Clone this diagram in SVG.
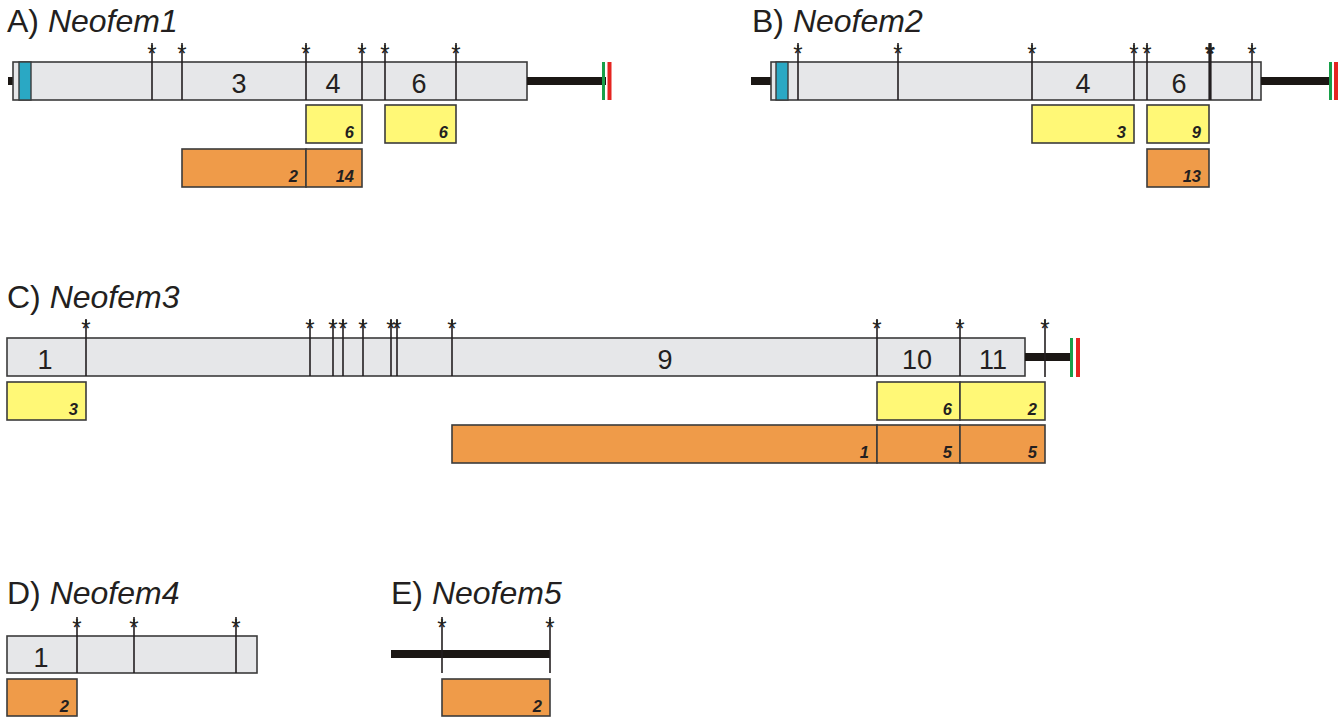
<svg xmlns="http://www.w3.org/2000/svg" width="1342" height="717" viewBox="0 0 1342 717">
<style>
.title{font-family:"Liberation Sans",Arial,sans-serif;font-size:32px;fill:#231f20}
.it{font-style:italic}
.bar{fill:#e6e7e9;stroke:#3b3b3b;stroke-width:1.6}
.cy{fill:#2aa8c4;stroke:#3b3b3b;stroke-width:1.4}
.ex{font-family:"Liberation Sans",Arial,sans-serif;font-size:27px;fill:#231f20;text-anchor:middle}
.y{fill:#fff876;stroke:#3b3b3b;stroke-width:1.6}
.o{fill:#ef9b49;stroke:#3b3b3b;stroke-width:1.6}
.n{font-family:"Liberation Sans",Arial,sans-serif;font-size:16.5px;font-weight:bold;font-style:italic;fill:#231f20;text-anchor:end}
.st{stroke:#231f20;stroke-width:1.6}
.star{font-family:"Liberation Sans",Arial,sans-serif;font-size:24px;fill:#231f20;text-anchor:middle}
.tail{stroke:#1b1714;stroke-width:8}
.g{fill:#18a04a}
.r{fill:#e52521}
</style>

<g id="panelA">
<text class="title" x="7" y="32">A) <tspan class="it">Neofem1</tspan></text>
<rect x="8" y="77" width="5" height="8" fill="#1b1714"/>
<rect class="bar" x="13" y="62" width="514" height="38"/>
<rect class="cy" x="19" y="62" width="12" height="38"/>
<text class="ex" x="239" y="93">3</text>
<text class="ex" x="333" y="93">4</text>
<text class="ex" x="419" y="93">6</text>
<g id="A-yellow1"><rect class="y" x="306" y="105" width="56" height="38"/><text class="n" x="354" y="138">6</text></g>
<g id="A-yellow2"><rect class="y" x="385" y="105" width="71" height="38"/><text class="n" x="448" y="138">6</text></g>
<g id="A-orange1"><rect class="o" x="182" y="149" width="124" height="38"/><text class="n" x="298" y="182">2</text></g>
<g id="A-orange2"><rect class="o" x="306" y="149" width="56" height="38"/><text class="n" x="354" y="182">14</text></g>
<line class="tail" x1="527" y1="81" x2="606" y2="81"/>
<rect class="g" x="602" y="62" width="3" height="38"/>
<rect class="r" x="607.5" y="62" width="4" height="38"/>
</g>

<g id="panelB">
<text class="title" x="752" y="32">B) <tspan class="it">Neofem2</tspan></text>
<rect x="751" y="77" width="20" height="8" fill="#1b1714"/>
<rect class="bar" x="771" y="62" width="490" height="38"/>
<rect class="cy" x="776" y="62" width="12" height="38"/>
<text class="ex" x="1083" y="93">4</text>
<text class="ex" x="1179" y="93">6</text>
<g id="B-yellow1"><rect class="y" x="1032" y="105" width="102" height="38"/><text class="n" x="1126" y="138">3</text></g>
<g id="B-yellow2"><rect class="y" x="1147" y="105" width="62" height="38"/><text class="n" x="1201" y="138">9</text></g>
<g id="B-orange1"><rect class="o" x="1147" y="149" width="62" height="38"/><text class="n" x="1201" y="182">13</text></g>
<line class="tail" x1="1261" y1="81" x2="1332" y2="81"/>
<rect class="g" x="1329" y="62" width="3" height="38"/>
<rect class="r" x="1334" y="62" width="4" height="38"/>
</g>

<g id="panelC">
<text class="title" x="7" y="308">C) <tspan class="it">Neofem3</tspan></text>
<rect class="bar" x="7" y="338" width="1018" height="38"/>
<text class="ex" x="45" y="369">1</text>
<text class="ex" x="665" y="369">9</text>
<text class="ex" x="917" y="369">10</text>
<text class="ex" x="993" y="369">11</text>
<g id="C-yellow1"><rect class="y" x="7" y="382" width="79" height="38"/><text class="n" x="78" y="415">3</text></g>
<g id="C-yellow2"><rect class="y" x="877" y="382" width="83" height="38"/><text class="n" x="952" y="415">6</text></g>
<g id="C-yellow3"><rect class="y" x="960" y="382" width="85" height="38"/><text class="n" x="1037" y="415">2</text></g>
<g id="C-orange1"><rect class="o" x="452" y="425" width="425" height="38"/><text class="n" x="869" y="458">1</text></g>
<g id="C-orange2"><rect class="o" x="877" y="425" width="83" height="38"/><text class="n" x="952" y="458">5</text></g>
<g id="C-orange3"><rect class="o" x="960" y="425" width="85" height="38"/><text class="n" x="1037" y="458">5</text></g>
<line class="tail" x1="1025" y1="357" x2="1072" y2="357"/>
<rect class="g" x="1070" y="338" width="3" height="39"/>
<rect class="r" x="1076" y="338" width="4" height="39"/>
</g>

<g id="panelD">
<text class="title" x="7" y="604">D) <tspan class="it">Neofem4</tspan></text>
<rect class="bar" x="7" y="636" width="250" height="37"/>
<text class="ex" x="41" y="667">1</text>
<g id="D-orange1"><rect class="o" x="7" y="679" width="70" height="37"/><text class="n" x="69" y="712">2</text></g>
</g>

<g id="panelE">
<text class="title" x="391" y="604">E) <tspan class="it">Neofem5</tspan></text>
<line class="tail" x1="391" y1="654" x2="550" y2="654"/>
<g id="E-orange1"><rect class="o" x="442" y="679" width="108" height="37"/><text class="n" x="542" y="712">2</text></g>
</g>

<g id="connectors">
<g class="st">
<line x1="152" y1="43" x2="152" y2="100"/><line x1="182" y1="43" x2="182" y2="100"/>
<line x1="306" y1="43" x2="306" y2="100"/><line x1="362" y1="43" x2="362" y2="100"/>
<line x1="385" y1="43" x2="385" y2="100"/><line x1="456" y1="43" x2="456" y2="100"/>
<line x1="798" y1="43" x2="798" y2="100"/><line x1="898" y1="43" x2="898" y2="100"/>
<line x1="1032" y1="43" x2="1032" y2="100"/><line x1="1134" y1="43" x2="1134" y2="100"/>
<line x1="1147" y1="43" x2="1147" y2="100"/>
<line x1="1210" y1="43" x2="1210" y2="100" stroke-width="3.2"/>
<line x1="1252" y1="43" x2="1252" y2="100"/>
<line x1="86" y1="319" x2="86" y2="376"/><line x1="310" y1="319" x2="310" y2="376"/>
<line x1="333" y1="319" x2="333" y2="376"/><line x1="343" y1="319" x2="343" y2="376"/>
<line x1="363" y1="319" x2="363" y2="376"/><line x1="391" y1="319" x2="391" y2="376"/>
<line x1="397" y1="319" x2="397" y2="376"/><line x1="452" y1="319" x2="452" y2="376"/>
<line x1="877" y1="319" x2="877" y2="376"/><line x1="960" y1="319" x2="960" y2="376"/>
<line x1="1045" y1="319" x2="1045" y2="377"/>
<line x1="77" y1="617" x2="77" y2="673"/><line x1="134" y1="617" x2="134" y2="673"/>
<line x1="236" y1="617" x2="236" y2="673"/>
<line x1="442" y1="617" x2="442" y2="673"/><line x1="550" y1="617" x2="550" y2="673"/>
</g>
<g class="star">
<text x="152" y="61.5">*</text><text x="182" y="61.5">*</text><text x="306" y="61.5">*</text>
<text x="362" y="61.5">*</text><text x="385" y="61.5">*</text><text x="456" y="61.5">*</text>
<text x="798" y="61.5">*</text><text x="898" y="61.5">*</text><text x="1032" y="61.5">*</text>
<text x="1134" y="61.5">*</text><text x="1147" y="61.5">*</text>
<text x="1210" y="61.5" stroke="#231f20" stroke-width="0.9">*</text>
<text x="1252" y="61.5">*</text>
<text x="86" y="337">*</text><text x="310" y="337">*</text><text x="333" y="337">*</text>
<text x="343" y="337">*</text><text x="363" y="337">*</text>
<text x="386.3" y="337" letter-spacing="-3.3" text-anchor="start">**</text>
<text x="452" y="337">*</text><text x="877" y="337">*</text>
<text x="960" y="337">*</text><text x="1045" y="337">*</text>
<text x="77" y="635.5">*</text><text x="134" y="635.5">*</text><text x="236" y="635.5">*</text>
<text x="442" y="635.5">*</text><text x="550" y="635.5">*</text>
</g>
</g>
</svg>
